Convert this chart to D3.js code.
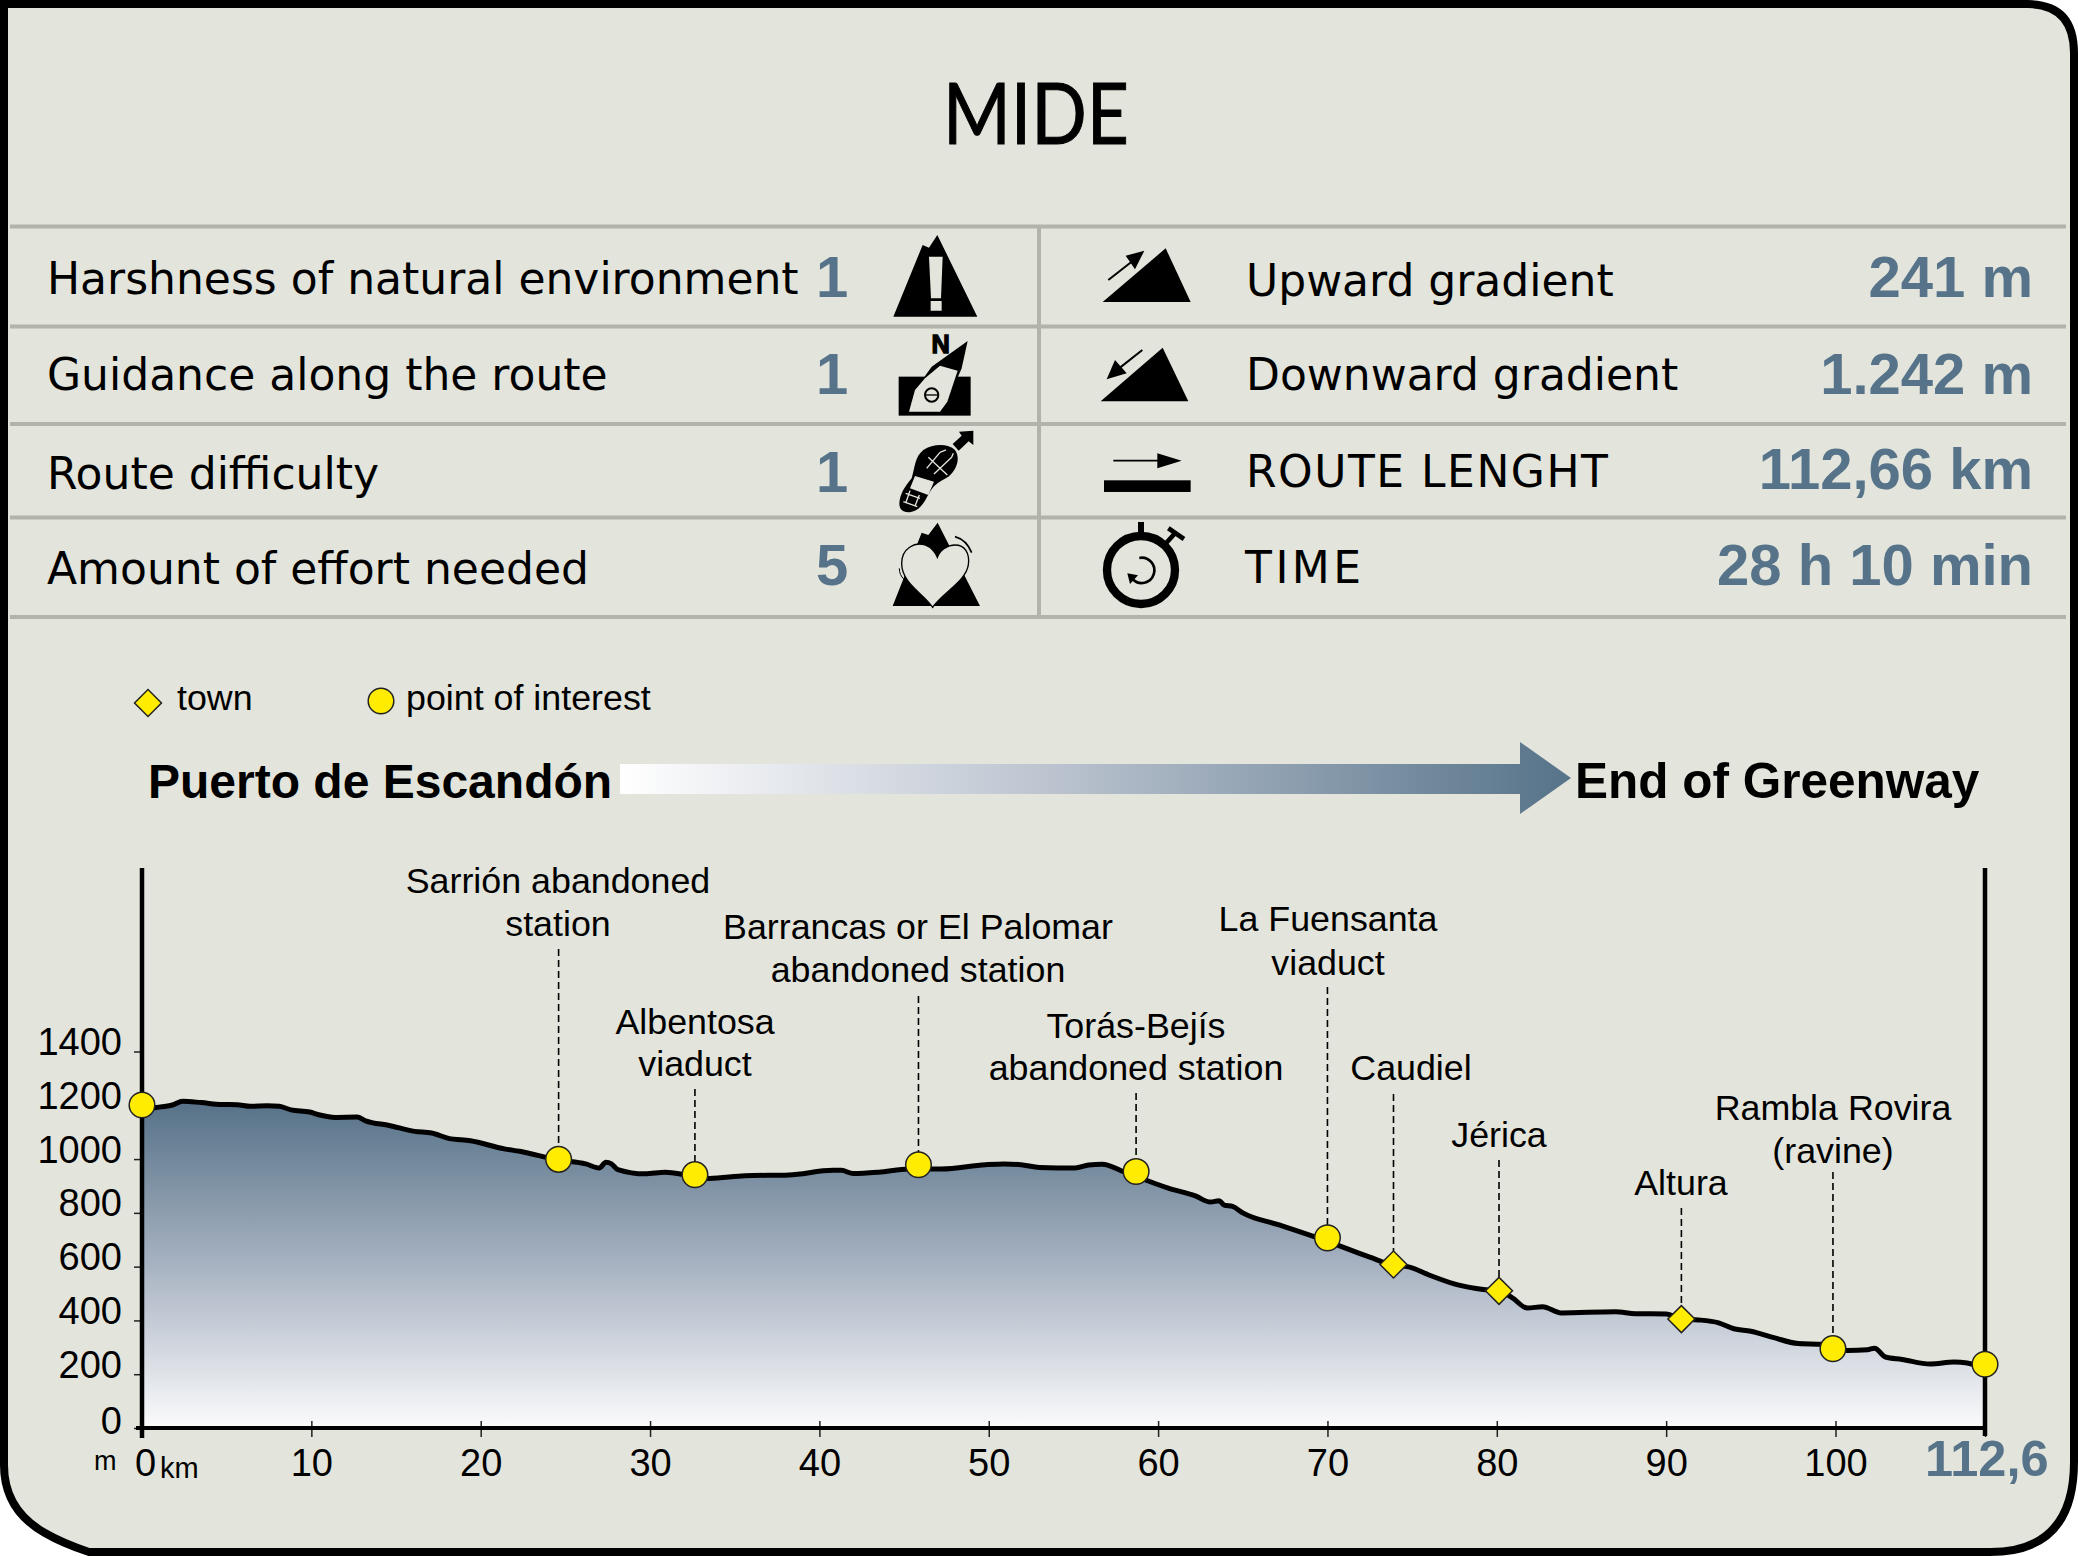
<!DOCTYPE html>
<html>
<head>
<meta charset="utf-8">
<script src="https://cdn.jsdelivr.net/npm/d3@7"></script>
<style>
  body { margin: 0; background: #fff; }
  svg { display: block; }
  text { font-family: "Liberation Sans", Arial, sans-serif; fill: #000; }
  .mide { font-family: "DejaVu Sans", sans-serif; font-size: 44px; }
  .score { font-weight: bold; font-size: 58px; fill: #567389; }
  .place { font-size: 35.8px; text-anchor: middle; }
  .tick text { font-size: 38px; }
  .tick line { stroke: #222; stroke-width: 1.5; }
  .domain { display: none; }
</style>
</head>
<body>
<div id="chart"></div>
<script>
// MIDE table
var leftLabels = ["Harshness of natural environment", "Guidance along the route", "Route difficulty", "Amount of effort needed"];
var leftScores = ["1", "1", "1", "5"];
var rightLabels = ["Upward gradient", "Downward gradient", "ROUTE LENGHT", "TIME"];
var rightValues = ["241 m", "1.242 m", "112,66 km", "28 h 10 min"];

// elevation profile
var profileKm = [0, 1.1, 1.8, 2.4, 3.5, 4.7, 5.6, 6.4, 7.4, 8.1, 8.8, 9.9, 10.5, 11.4, 12.7, 13.2, 14.6, 16.1, 17.1, 18.1,
  19.4, 21.4, 22.3, 24.6, 26.2, 27, 27.4, 27.7, 28.1, 29.7, 30.9, 32.2, 33.5, 35.6, 38.2, 40.8, 41.3, 42, 43.5, 45.3,
  47.2, 49.8, 50.9, 51.9, 53, 55.1, 55.9, 56.7, 58, 60.6, 62.2, 63.1, 63.6, 63.9, 64.4, 65, 67.2, 70, 72.5, 73.9,
  74.8, 76, 77.7, 79.2, 80.1, 80.9, 81.8, 82.7, 83.8, 87, 88.2, 90, 90.9, 91.9, 93.1, 94, 95, 96.3, 97.8, 99.2,
  100.2, 101, 102.7, 103.3, 104.2, 105.6, 108, 110, 111.1, 112.6];
var profileElev = [1184, 1194, 1201, 1215, 1210, 1203, 1202, 1196, 1198, 1196, 1183, 1175, 1164, 1155, 1156, 1142, 1125, 1103, 1097, 1077,
  1068, 1038, 1029, 996, 982, 967, 988, 983, 961, 945, 951, 940, 928, 938, 941, 958, 958, 946, 951, 963,
  963, 979, 982, 979, 969, 967, 978, 981, 952, 892, 863, 840, 845, 829, 824, 800, 754, 694, 635, 605,
  599, 569, 532, 515, 510, 485, 446, 451, 428, 432, 425, 424, 405, 402, 391, 369, 360, 337, 314, 311,
  297, 288, 291, 297, 264, 255, 238, 245, 242, 218];

// points along the route
var pointKm = [0, 24.6, 32.65, 45.85, 58.7, 70, 73.9, 80.13, 90.9, 99.85, 112.6];
var pointElev = [1201, 999, 942, 979, 954, 707, 608, 510, 405, 295, 237];
var pointType = ["poi", "poi", "poi", "poi", "poi", "poi", "town", "town", "town", "poi", "poi"];
var pointNames = [[], ["Sarrión abandoned", "station"], ["Albentosa", "viaduct"], ["Barrancas or El Palomar", "abandoned station"],
  ["Torás-Bejís", "abandoned station"], ["La Fuensanta", "viaduct"], ["Caudiel"], ["Jérica"], ["Altura"], ["Rambla Rovira", "(ravine)"], []];

var xTicks = [0, 10, 20, 30, 40, 50, 60, 70, 80, 90, 100, 112.6];
var yTicks = [0, 200, 400, 600, 800, 1000, 1200, 1400];

var svgWidth = 2078;
var svgHeight = 1556;

var svg = d3.select("#chart").append("svg")
  .attr("width", svgWidth)
  .attr("height", svgHeight);

var defs = svg.append("defs");

// scales, the last stretch of the km axis is squeezed in the original
var xScale = d3.scaleLinear().domain([0, 100, 112.6]).range([142, 1835.5, 1985]);
var yScale = d3.scaleLinear().domain([0, 1400]).range([1428, 1051.5]);

// card
svg.append("path")
  .attr("d", "M4,4 H2027 Q2074,4 2074,53 V1462 Q2074,1552 1990,1552 H89 Q62,1543 45,1533 Q4,1510 4,1465 Z")
  .attr("fill", "#e3e4db")
  .attr("stroke", "#000")
  .attr("stroke-width", 8);

// title
svg.append("text")
  .attr("x", 1036).attr("y", 144)
  .attr("text-anchor", "middle")
  .attr("textLength", 186)
  .attr("lengthAdjust", "spacingAndGlyphs")
  .attr("stroke", "#000").attr("stroke-width", 1)
  .style("font-family", "Lato")
  .style("font-size", "85px")
  .text("MIDE");

// table rules
var ruleY = [226.5, 326.5, 424, 517.5, 617];
svg.selectAll(".rule").data(ruleY).enter().append("line")
  .attr("x1", 10).attr("x2", 2066)
  .attr("y1", d => d).attr("y2", d => d)
  .attr("stroke", "#b2b3aa").attr("stroke-width", 4);
svg.append("line")
  .attr("x1", 1039).attr("x2", 1039)
  .attr("y1", 226).attr("y2", 617)
  .attr("stroke", "#b2b3aa").attr("stroke-width", 4);

var leftBase = [294, 390, 489, 584];
var leftScoreBase = [297, 394, 492, 585];
var rightBase = [296, 390, 487, 583];
var rightSpacing = [0, 0, 1.5, 3.5];
var rightValueBase = [297, 394, 489, 585];

svg.selectAll(".left").data(leftLabels).enter().append("text")
  .attr("class", "mide")
  .attr("x", 47).attr("y", (d, i) => leftBase[i])
  .text(d => d);
svg.selectAll(".leftScore").data(leftScores).enter().append("text")
  .attr("class", "score")
  .attr("x", 816).attr("y", (d, i) => leftScoreBase[i])
  .text(d => d);
svg.selectAll(".right").data(rightLabels).enter().append("text")
  .attr("class", "mide")
  .attr("x", (d, i) => i == 3 ? 1245 : 1246).attr("y", (d, i) => rightBase[i])
  .style("letter-spacing", (d, i) => rightSpacing[i] + "px")
  .text(d => d);
svg.selectAll(".rightValue").data(rightValues).enter().append("text")
  .attr("class", "score")
  .attr("x", 2033).attr("y", (d, i) => rightValueBase[i])
  .attr("text-anchor", "end")
  .text(d => d);

// icons, drawn at 3x so they share the same coordinates
var iconsLeft = svg.append("g").attr("transform", "translate(860,220) scale(0.3333)");
iconsLeft.append("path").attr("d", "M100,290 L188,75 L207,83 L232,45 L352,290 Z");
iconsLeft.append("path").attr("fill", "#e3e4db")
  .attr("d", "M207,110 H248 L243,235 H213 Z M212,243 H245 V272 H212 Z");
iconsLeft.append("rect").attr("x", 116).attr("y", 470).attr("width", 216).attr("height", 117);
iconsLeft.append("text").attr("x", 242).attr("y", 398)
  .attr("text-anchor", "middle")
  .style("font-size", "76px").style("font-weight", "bold")
  .attr("stroke", "#000").attr("stroke-width", 4)
  .text("N");
iconsLeft.append("path").attr("d", "M323,363 L305,445 L262,545 L240,575 H147 L165,510 L215,440 Z");
iconsLeft.append("path").attr("fill", "#e3e4db")
  .attr("d", "M293,452 L262,545 L240,575 H147 L165,510 L195,475 L240,437 Z");
iconsLeft.append("circle").attr("cx", 215).attr("cy", 525).attr("r", 20)
  .attr("fill", "none").attr("stroke", "#000").attr("stroke-width", 6);
iconsLeft.append("line").attr("x1", 197).attr("x2", 233).attr("y1", 525).attr("y2", 525)
  .attr("stroke", "#000").attr("stroke-width", 4);
iconsLeft.append("path")
  .attr("d", "M118,850 C120,820 135,800 155,775 C165,740 165,710 190,690 C220,670 265,670 285,690 C300,710 295,745 265,770 C240,785 225,790 210,815 C195,840 185,870 150,877 C130,878 118,870 118,850 Z");
iconsLeft.append("path").attr("fill", "#e3e4db").attr("d", "M165,768 L222,785 L205,825 L150,805 Z");
iconsLeft.append("path").attr("fill", "none").attr("stroke", "#e3e4db").attr("stroke-width", 4)
  .attr("d", "M200,745 L240,697 M222,762 L275,712 M205,712 L262,765 M240,697 L258,690 M275,712 L280,700 M150,812 L137,850 M178,825 L165,858 M137,820 L180,835 M130,845 L172,860");
iconsLeft.append("path").attr("d", "M278,672 L305,647 L297,635 L340,632 L340,675 L326,664 L296,692 Z");
iconsLeft.append("path").attr("d", "M98,1158 L185,938 L205,945 L233,908 L360,1158 Z");
iconsLeft.append("path").attr("fill", "#e3e4db").attr("stroke", "#000").attr("stroke-width", 4)
  .attr("d", "M218,1162 C190,1120 125,1090 125,1030 C125,985 165,965 195,975 C215,982 228,1000 232,1012 C240,990 262,975 285,975 C315,975 330,1000 325,1035 C318,1085 245,1120 218,1162 Z");
iconsLeft.append("path").attr("fill", "none").attr("stroke", "#000").attr("stroke-width", 5)
  .attr("d", "M285,950 Q320,960 335,998");
iconsLeft.append("path").attr("fill", "none").attr("stroke", "#000").attr("stroke-width", 3)
  .attr("d", "M118,1045 Q118,1065 132,1078");

var iconsRight = svg.append("g").attr("transform", "translate(1080,220) scale(0.3333)");
iconsRight.append("path").attr("d", "M68,246 L257,85 L332,246 Z");
iconsRight.append("path").attr("d", "M193,92 L137,107 L165,148 Z");
iconsRight.append("line").attr("x1", 85).attr("y1", 180).attr("x2", 155).attr("y2", 125)
  .attr("stroke", "#000").attr("stroke-width", 6);
iconsRight.append("path").attr("d", "M62,544 L248,383 L325,544 Z");
iconsRight.append("path").attr("d", "M80,478 L105,420 L140,460 Z");
iconsRight.append("line").attr("x1", 187).attr("y1", 390).attr("x2", 120).attr("y2", 443)
  .attr("stroke", "#000").attr("stroke-width", 6);
iconsRight.append("line").attr("x1", 100).attr("y1", 722).attr("x2", 240).attr("y2", 722)
  .attr("stroke", "#000").attr("stroke-width", 5);
iconsRight.append("path").attr("d", "M232,700 L305,722 L232,745 Z");
iconsRight.append("rect").attr("x", 72).attr("y", 781).attr("width", 260).attr("height", 35);
iconsRight.append("circle").attr("cx", 183).attr("cy", 1050).attr("r", 102)
  .attr("fill", "none").attr("stroke", "#000").attr("stroke-width", 25);
iconsRight.append("rect").attr("x", 174).attr("y", 906).attr("width", 18).attr("height", 36);
iconsRight.append("line").attr("x1", 258).attr("y1", 970).attr("x2", 285).attr("y2", 940)
  .attr("stroke", "#000").attr("stroke-width", 14);
iconsRight.append("line").attr("x1", 265).attr("y1", 925).attr("x2", 312).attr("y2", 957)
  .attr("stroke", "#000").attr("stroke-width", 14);
iconsRight.append("path").attr("fill", "none").attr("stroke", "#000").attr("stroke-width", 8)
  .attr("d", "M178,1014 A38,38 0 1 1 158,1078");
iconsRight.append("path").attr("d", "M142,1060 L174,1066 L150,1092 Z");

// legend
var yellow = "#ffec00";
var diamond = d3.symbol().type(d3.symbolSquare).size(364);

function drawMarker(sel, type) {
  if (type == "town") {
    sel.append("path").attr("d", diamond()).attr("transform", "rotate(45)")
      .attr("fill", yellow).attr("stroke", "#222").attr("stroke-width", 1.5);
  } else {
    sel.append("circle").attr("r", 12.8)
      .attr("fill", yellow).attr("stroke", "#222").attr("stroke-width", 1.5);
  }
}

svg.append("g").attr("transform", "translate(148,703)").call(drawMarker, "town");
svg.append("g").attr("transform", "translate(381,701)").call(drawMarker, "poi");
svg.append("text").attr("x", 177).attr("y", 710).style("font-size", "35.8px").text("town");
svg.append("text").attr("x", 406).attr("y", 710).style("font-size", "35.8px").text("point of interest");

// direction arrow
var arrowGrad = defs.append("linearGradient").attr("id", "arrowGrad")
  .attr("gradientUnits", "userSpaceOnUse")
  .attr("x1", 620).attr("x2", 1571).attr("y1", 0).attr("y2", 0);
arrowGrad.append("stop").attr("offset", 0).attr("stop-color", "#fff");
arrowGrad.append("stop").attr("offset", 0.45).attr("stop-color", "#bcc4d0");
arrowGrad.append("stop").attr("offset", 1).attr("stop-color", "#567389");
svg.append("path")
  .attr("d", "M620,764 H1520 V742 L1571,778 L1520,814 V794 H620 Z")
  .attr("fill", "url(#arrowGrad)");
svg.append("text").attr("x", 148).attr("y", 798)
  .style("font-size", "48px").style("font-weight", "bold").text("Puerto de Escandón");
svg.append("text").attr("x", 1575).attr("y", 798)
  .style("font-size", "49.5px").style("font-weight", "bold").text("End of Greenway");

// profile area
var profile = profileKm.map((d, i) => [d, profileElev[i]]);

var areaGrad = defs.append("linearGradient").attr("id", "areaGrad")
  .attr("gradientUnits", "userSpaceOnUse")
  .attr("x1", 0).attr("x2", 0).attr("y1", yScale(1200)).attr("y2", yScale(0));
areaGrad.append("stop").attr("offset", 0).attr("stop-color", "#587389");
areaGrad.append("stop").attr("offset", 0.5).attr("stop-color", "#a8b3c2");
areaGrad.append("stop").attr("offset", 1).attr("stop-color", "#fbfbfc");

var area = d3.area()
  .x(d => xScale(d[0]))
  .y0(yScale(0))
  .y1(d => yScale(d[1]))
  .curve(d3.curveMonotoneX);
var line = d3.line()
  .x(d => xScale(d[0]))
  .y(d => yScale(d[1]))
  .curve(d3.curveMonotoneX);

svg.append("path").datum(profile).attr("d", area).attr("fill", "url(#areaGrad)");
svg.append("path").datum(profile).attr("d", line)
  .attr("fill", "none").attr("stroke", "#000").attr("stroke-width", 5);

// axes
var yAxis = svg.append("g")
  .attr("transform", `translate(${xScale(0)},0)`)
  .call(d3.axisLeft(yScale).tickValues(yTicks).tickSize(8).tickPadding(12).tickFormat(d3.format("d")));
yAxis.selectAll("text").attr("dy", d => d == 0 ? "5px" : "3px");

var xAxis = svg.append("g")
  .attr("transform", `translate(0,${yScale(0)})`)
  .call(d3.axisBottom(xScale).tickValues(xTicks)
    .tickFormat(d => d == 112.6 ? "112,6" : d));
xAxis.selectAll(".tick line").attr("y1", -7).attr("y2", 9);
xAxis.selectAll("text").attr("y", 48).attr("dy", 0).attr("dx", d => d == 0 ? 3 : 0);
xAxis.selectAll(".tick")
  .filter(d => d == 112.6)
  .select("text")
  .attr("x", 63).attr("dx", 0).attr("text-anchor", "end")
  .style("font-size", "50.5px").style("font-weight", "bold").style("fill", "#567389");

svg.append("line").attr("x1", xScale(0)).attr("x2", xScale(0)).attr("y1", 868).attr("y2", 1438)
  .attr("stroke", "#000").attr("stroke-width", 4.5);
svg.append("line").attr("x1", xScale(112.6)).attr("x2", xScale(112.6)).attr("y1", 868).attr("y2", 1436)
  .attr("stroke", "#000").attr("stroke-width", 4.5);
svg.append("line").attr("x1", xScale(0) - 6).attr("x2", xScale(112.6)).attr("y1", yScale(0)).attr("y2", yScale(0))
  .attr("stroke", "#000").attr("stroke-width", 4);

svg.append("text").attr("x", 94).attr("y", 1470).style("font-size", "27px").text("m");
svg.append("text").attr("x", 160).attr("y", 1478).style("font-size", "29px").text("km");

// callouts: leader top, then the label baselines above it
var leaderTop = [null, 949, 1089, 996, 1093, 987, 1094, 1160, 1208, 1172, null];
var labelX = [null, 558, 695, 918, 1136, 1328, 1411, 1499, 1681, 1833, null];
var labelBase = [[], [893, 936], [1034, 1076], [938.5, 982], [1038, 1080], [931, 975], [1080], [1147], [1195], [1120, 1163], []];

var points = svg.selectAll(".point")
  .data(pointKm)
  .enter().append("g");

points.filter((d, i) => leaderTop[i] != null).append("line")
  .attr("x1", d => xScale(d)).attr("x2", d => xScale(d))
  .attr("y1", d => leaderTop[pointKm.indexOf(d)])
  .attr("y2", d => yScale(pointElev[pointKm.indexOf(d)]))
  .attr("stroke", "#000").attr("stroke-width", 1.6)
  .attr("stroke-dasharray", "7,4");

points.each(function(d, i) {
  var g = d3.select(this);
  pointNames[i].forEach(function(name, j) {
    g.append("text").attr("class", "place")
      .attr("x", labelX[i]).attr("y", labelBase[i][j])
      .text(name);
  });
  g.append("g")
    .attr("transform", `translate(${xScale(d)},${yScale(pointElev[i])})`)
    .call(drawMarker, pointType[i]);
});
</script>
</body>
</html>
